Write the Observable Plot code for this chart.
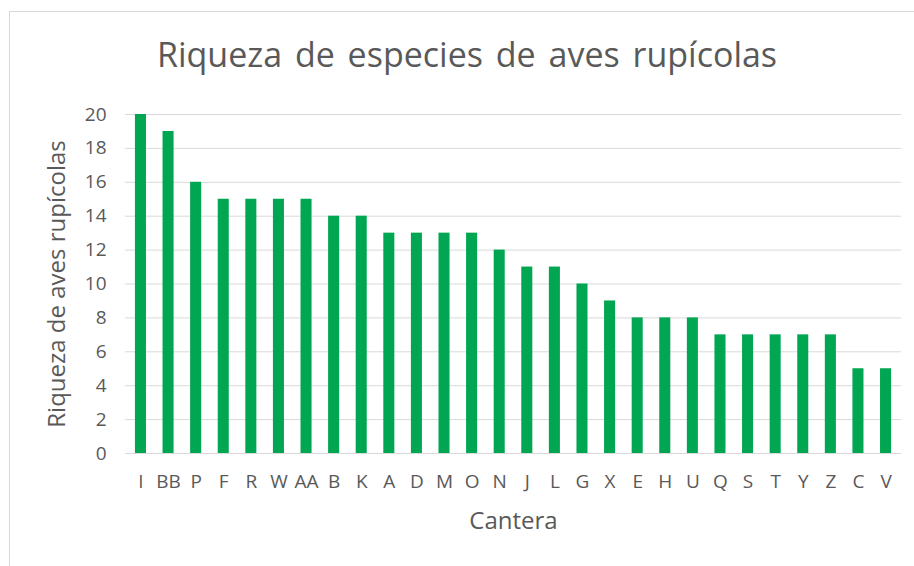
<!DOCTYPE html>
<html>
<head>
<meta charset="utf-8">
<script src="https://cdn.jsdelivr.net/npm/d3@7"></script>
<script src="https://cdn.jsdelivr.net/npm/@observablehq/plot@0.6"></script>
<style>
  html, body { margin: 0; padding: 0; background: #fff; overflow: hidden; }
  #wrap { position: relative; width: 914px; height: 566px; }
  #frame { position: absolute; left: 9px; top: 11px; width: 1000px; height: 1000px; border: 1px solid #d9d9d9; box-sizing: border-box; pointer-events: none; }
  #title { height: 95px; box-sizing: border-box; padding-top: 31px; text-align: center; padding-left: 20px;
           font-family: "Open Sans", sans-serif; font-size: 34px; color: #595959; line-height: 46px; word-spacing: 4px; }
  #chart svg { display: block; overflow: visible; }
</style>
</head>
<body>
<div id="wrap">
  <div id="frame"></div>
  <div id="title">Riqueza de especies de aves rupícolas</div>
  <div id="chart"></div>
</div>
<script>
const categories = ["I","BB","P","F","R","W","AA","B","K","A","D","M","O","N","J","L","G","X","E","H","U","Q","S","T","Y","Z","C","V"];
const values = [20,19,16,15,15,15,15,14,14,13,13,13,13,12,11,11,10,9,8,8,8,7,7,7,7,7,5,5];
const yTicks = [0,2,4,6,8,10,12,14,16,18,20];
const xTitle = "Cantera";
const yTitle = "Riqueza de aves rupícolas";

const data = categories.map((c, i) => ({cantera: c, riqueza: values[i]}));

const chart = Plot.plot({
  width: 914,
  height: 471,
  marginLeft: 125,
  marginRight: 13,
  marginTop: 19,
  marginBottom: 113,
  style: {fontFamily: "'Open Sans', sans-serif", fontSize: "19px", color: "#595959", background: "transparent", overflow: "visible"},
  x: {domain: categories, paddingInner: 0.6, paddingOuter: 0.36, align: 0.5, round: false},
  y: {domain: [0, 20]},
  marks: [
    Plot.gridY(yTicks, {stroke: "#d9d9d9", strokeOpacity: 1, strokeWidth: 1}),
    Plot.ruleY([0], {stroke: "#d9d9d9", strokeWidth: 1.2}),
    Plot.barY(data, {x: "cantera", y: "riqueza", fill: "#00a651"}),
    Plot.axisY({ticks: yTicks, tickSize: 0, tickPadding: 19, label: null, fontSize: 19, fill: "#595959"}),
    Plot.axisX({tickSize: 0, tickPadding: 21, label: null, fontSize: 19, fill: "#595959"}),
    Plot.text([xTitle], {frameAnchor: "bottom", dy: 75, fontSize: 24, fill: "#595959"}),
    Plot.text([yTitle], {frameAnchor: "left", dx: -68, rotate: -90, textAnchor: "middle", fontSize: 24, fill: "#595959"})
  ]
});
document.getElementById("chart").appendChild(chart);
</script>
</body>
</html>
